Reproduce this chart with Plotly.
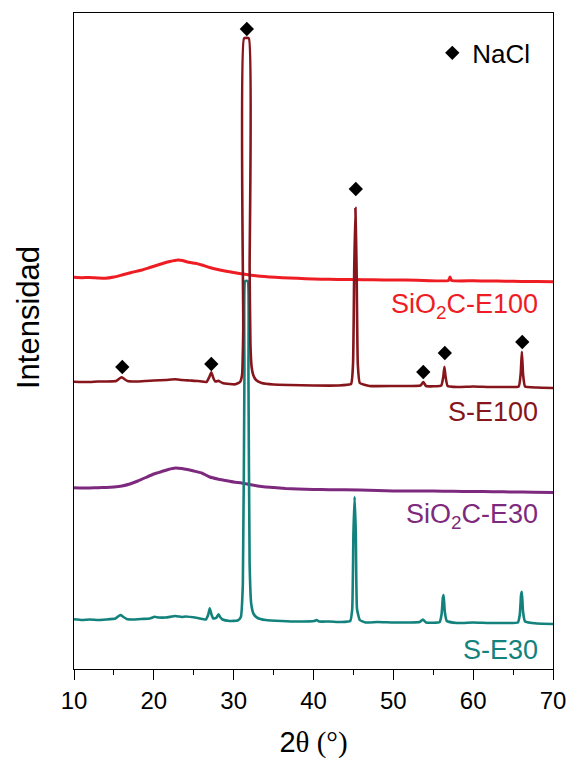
import plotly.graph_objects as go

# --- XRD patterns (2θ in degrees, intensity in a.u.) ---
# S-E30
se30_2theta = [10.0, 11.0, 12.0, 13.0, 14.0, 15.2, 15.6, 15.85, 16.1, 16.6, 17.5, 18.5,
               19.5, 20.1, 20.6, 21.5, 22.7, 23.5, 24.0, 25.5, 26.5, 26.8, 27.0, 27.2,
               27.45, 27.8, 28.0, 28.1, 28.3, 28.6, 29.5, 30.5, 30.9, 31.15, 31.35,
               31.45, 31.75, 31.85, 32.0, 32.2, 32.5, 33.0, 34.0, 36.0, 38.0, 40.1,
               40.4, 40.7, 42.0, 43.5, 44.6, 44.85, 45.0, 45.15, 45.3, 45.45, 45.8,
               46.5, 48.0, 50.0, 52.0, 53.3, 53.7, 54.1, 55.8, 56.05, 56.2, 56.3,
               56.45, 56.7, 58.0, 60.0, 62.0, 64.0, 65.6, 65.85, 66.0, 66.1, 66.25,
               66.5, 68.0, 70.0]
se30_int = [4.7, 4.0, 4.5, 4.0, 4.5, 5.5, 8.0, 9.0, 7.5, 5.0, 4.5, 5.0,
            5.5, 7.3, 6.5, 6.5, 8.0, 7.0, 7.5, 6.0, 4.5, 9.0, 15.7, 10.0,
            5.5, 6.0, 8.5, 9.7, 7.0, 4.5, 3.0, 3.5, 7.0, 40.0, 250.0,
            343.0, 343.0, 250.0, 60.0, 20.0, 10.0, 6.0, 4.0, 3.0, 2.5, 3.0,
            4.0, 2.5, 2.5, 2.0, 3.0, 15.0, 90.0, 127.3, 90.0, 15.0, 4.0,
            1.5, 2.0, 1.5, 1.5, 2.0, 4.5, 1.5, 2.0, 10.0, 26.0, 29.0,
            12.0, 3.0, 1.0, 1.5, 1.0, 1.0, 1.5, 10.0, 29.0, 32.3, 12.0,
            2.5, 0.5, 0.0]

# SiO2C-E30
sio2c_e30_2theta = [10.0, 11.0, 12.0, 13.0, 14.0, 15.0, 16.0, 17.0, 18.0, 19.0, 20.0,
                    21.0, 21.8, 22.7, 23.5, 24.2, 25.0, 26.0, 27.0, 28.0, 29.0, 30.0,
                    31.0, 32.0, 33.0, 34.0, 35.0, 36.5, 38.0, 40.0, 42.0, 45.8, 48.0,
                    50.0, 52.5, 55.0, 57.5, 60.0, 62.5, 65.0, 67.5, 70.0]
sio2c_e30_int = [6.3, 6.0, 6.0, 6.3, 6.5, 7.0, 8.0, 10.0, 13.0, 16.5, 20.0,
                 22.5, 24.5, 26.0, 25.5, 24.5, 23.0, 21.0, 17.0, 15.0, 13.5, 12.0,
                 11.0, 9.5, 8.0, 7.0, 6.5, 5.5, 5.0, 4.5, 4.3, 4.0, 3.5,
                 3.0, 3.0, 3.0, 2.7, 2.5, 2.3, 2.0, 1.8, 1.5]

# S-E100
se100_2theta = [10.0, 11.0, 12.0, 13.0, 14.0, 15.3, 15.7, 16.0, 16.3, 16.7, 18.0, 19.0,
                20.0, 21.5, 22.7, 23.5, 24.5, 25.5, 26.6, 26.95, 27.2, 27.45, 27.7,
                28.0, 28.1, 28.25, 28.6, 29.5, 30.2, 30.8, 31.05, 31.2, 31.3, 31.9,
                32.0, 32.1, 32.25, 32.45, 32.8, 33.5, 35.0, 37.0, 40.0, 43.0, 44.7,
                44.95, 45.1, 45.25, 45.4, 45.55, 45.8, 47.0, 50.0, 53.4, 53.75, 54.1,
                56.0, 56.25, 56.4, 56.55, 56.8, 58.0, 60.0, 62.0, 64.0, 65.7, 65.95,
                66.1, 66.25, 66.5, 68.0, 70.0]
se100_int = [7.3, 7.0, 7.0, 7.5, 7.5, 8.0, 10.5, 11.7, 10.0, 8.0, 7.5, 8.0,
             8.5, 9.0, 9.7, 9.0, 8.5, 8.0, 7.0, 12.0, 16.7, 11.0, 7.5,
             8.0, 8.3, 7.5, 6.0, 5.0, 4.7, 7.0, 14.0, 60.0, 350.7, 350.7,
             120.0, 45.0, 22.0, 14.0, 9.0, 6.0, 4.5, 4.0, 3.5, 3.5, 5.0,
             25.0, 120.0, 181.0, 120.0, 25.0, 6.0, 3.0, 3.0, 3.5, 7.0, 3.0,
             3.5, 12.0, 22.3, 12.0, 3.0, 2.0, 2.5, 2.0, 2.0, 2.5, 15.0,
             37.3, 15.0, 2.5, 1.5, 1.0]

# SiO2C-E100
sio2c_e100_2theta = [10.0, 11.0, 12.0, 13.0, 13.9, 15.0, 16.0, 17.2, 18.5, 19.5, 20.5,
                     21.3, 22.0, 23.0, 23.6, 24.2, 25.2, 26.0, 27.0, 28.0, 28.9, 30.0,
                     31.4, 33.0, 35.2, 37.0, 39.0, 41.0, 43.0, 45.0, 47.5, 50.0, 53.0,
                     56.9, 57.1, 57.3, 60.0, 62.0, 64.0, 66.0, 68.0, 70.0]
sio2c_e100_int = [6.7, 6.3, 6.5, 6.0, 5.7, 7.0, 9.0, 11.5, 14.0, 16.5, 19.0,
                  21.0, 22.5, 24.0, 23.5, 22.0, 20.7, 19.0, 16.5, 14.5, 13.0, 11.5,
                  9.7, 8.0, 6.7, 6.0, 5.3, 4.7, 4.6, 4.5, 4.2, 4.0, 3.8,
                  3.5, 7.0, 3.5, 3.2, 3.0, 2.8, 2.5, 2.4, 2.3]

# Vertical stacking offsets (a.u.)
offsets = {"S-E30": 45, "SiO2C-E30": 175, "S-E100": 280, "SiO2C-E100": 385}

# NaCl reflections marked above the S-E100 pattern (2θ, marker height in a.u.)
nacl_2theta = [16.05, 27.2, 31.65, 45.3, 53.75, 56.45, 66.15]
nacl_mark = [302, 305, 640, 480, 297, 316, 327]

colors = {
    "SiO2C-E100": "#EE1D23",
    "S-E100": "#86161C",
    "SiO2C-E30": "#7D2A7E",
    "S-E30": "#13827D",
}

series = [
    ("SiO2C-E30", sio2c_e30_2theta, sio2c_e30_int, 3.0),
    ("SiO2C-E100", sio2c_e100_2theta, sio2c_e100_int, 3.0),
    ("S-E30", se30_2theta, se30_int, 2.6),
    ("S-E100", se100_2theta, se100_int, 2.6),
]

fig = go.Figure()
for name, xs, ys, lw in series:
    off = offsets[name]
    fig.add_trace(go.Scatter(
        x=xs, y=[v + off for v in ys], mode="lines", name=name,
        line=dict(color=colors[name], width=lw, shape="spline", smoothing=0.4),
        showlegend=False, hoverinfo="skip",
    ))

fig.add_trace(go.Scatter(
    x=nacl_2theta, y=nacl_mark, mode="markers", name="NaCl",
    marker=dict(symbol="diamond", size=11, color="black"),
    showlegend=True,
))

# Sample labels at the right of each pattern
labels = [
    ("SiO<sub>2</sub>C-E100", "SiO2C-E100", 363),
    ("S-E100", "S-E100", 257),
    ("SiO<sub>2</sub>C-E30", "SiO2C-E30", 153),
    ("S-E30", "S-E30", 19),
]
annotations = []
for txt, key, yv in labels:
    annotations.append(dict(
        x=68.4, y=yv, xref="x", yref="y", text=txt, showarrow=False,
        xanchor="right", yanchor="middle",
        font=dict(family="Liberation Sans, Arial, sans-serif", size=27, color=colors[key]),
    ))

annotations.append(dict(
    x=-0.096, y=0.535, xref="paper", yref="paper", text="Intensidad",
    showarrow=False, textangle=-90, xanchor="center", yanchor="middle",
    font=dict(family="Liberation Sans, Arial, sans-serif", size=31, color="black"),
))

fig.update_layout(
    width=569, height=768,
    margin=dict(l=74, r=16, t=13, b=99, autoexpand=False),
    paper_bgcolor="white", plot_bgcolor="white",
    font=dict(family="Liberation Sans, Arial, sans-serif", color="black"),
    annotations=annotations,
    legend=dict(
        x=0.748, y=0.975, xanchor="left", yanchor="top",
        bgcolor="rgba(0,0,0,0)", borderwidth=0,
        font=dict(family="Liberation Sans, Arial, sans-serif", size=26, color="black"),
        itemwidth=30,
    ),
    xaxis=dict(
        range=[10, 70], tickmode="linear", tick0=10, dtick=10,
        ticks="outside", ticklen=10, tickwidth=1.3, tickcolor="black",
        minor=dict(ticks="outside", ticklen=5, tickwidth=1.3, dtick=5, tick0=10, tickcolor="black"),
        showline=True, linecolor="black", linewidth=1.4, mirror=True,
        showgrid=False, zeroline=False, automargin=False,
        tickfont=dict(family="Liberation Sans, Arial, sans-serif", size=24, color="black"),
        title=dict(
            text="2<span style='font-family:Liberation Serif, Times New Roman, serif'>θ (°)</span>",
            font=dict(family="Liberation Sans, Arial, sans-serif", size=29, color="black"),
            standoff=18,
        ),
    ),
    yaxis=dict(
        range=[0, 656], showticklabels=False, ticks="",
        showline=True, linecolor="black", linewidth=1.4, mirror=True,
        showgrid=False, zeroline=False, automargin=False,
    ),
)

fig.write_html("out.html")
